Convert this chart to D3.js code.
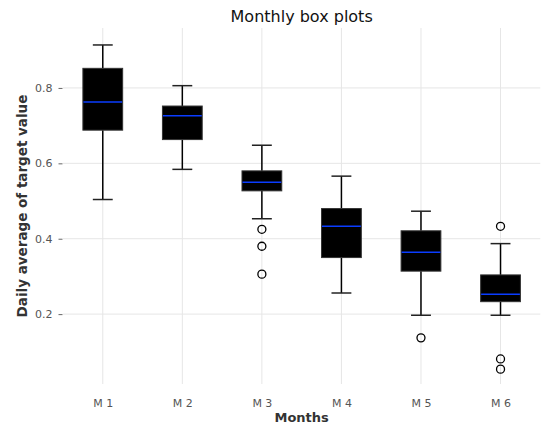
<!DOCTYPE html>
<html>
<head>
<meta charset="utf-8">
<script src="https://cdn.jsdelivr.net/npm/d3@7"></script>
<style>
  html, body { margin: 0; padding: 0; background: #fff; }
  svg { display: block; font-family: "DejaVu Sans", sans-serif; }
</style>
</head>
<body>
<svg id="chart" width="543" height="430"></svg>
<script>
// ---- data ----
const categories   = ["M 1", "M 2", "M 3", "M 4", "M 5", "M 6"];
const whiskerLow   = [0.504, 0.584, 0.453, 0.256, 0.197, 0.197];
const q1           = [0.688, 0.663, 0.527, 0.350, 0.314, 0.233];
const medians      = [0.763, 0.726, 0.550, 0.433, 0.364, 0.253];
const q3           = [0.852, 0.752, 0.580, 0.480, 0.421, 0.304];
const whiskerHigh  = [0.914, 0.806, 0.648, 0.566, 0.473, 0.387];
const outliers     = [[], [], [0.425, 0.380, 0.306], [], [0.137], [0.433, 0.081, 0.054]];
const yTicks       = [0.2, 0.4, 0.6, 0.8];
const yDomain      = [0.0146, 0.959];

const title  = "Monthly box plots";
const xLabel = "Months";
const yLabel = "Daily average of target value";

// ---- layout ----
const svg = d3.select("#chart");
const plot = { left: 63, right: 540.3, top: 28, bottom: 384 };

const x = d3.scalePoint().domain(categories)
  .range([plot.left, plot.right]).padding(0.5);
const step = x.step();
const y = d3.scaleLinear().domain(yDomain).range([plot.bottom, plot.top]);

const boxW = step * 0.5;
const capW = step * 0.25;

// grid
const grid = svg.append("g");
grid.selectAll("line.h").data(yTicks).join("line")
  .attr("x1", plot.left).attr("x2", plot.right)
  .attr("y1", d => y(d)).attr("y2", d => y(d))
  .attr("stroke", "#e6e6e6").attr("stroke-width", 1);
grid.selectAll("line.v").data(categories).join("line")
  .attr("x1", d => x(d)).attr("x2", d => x(d))
  .attr("y1", plot.top).attr("y2", plot.bottom)
  .attr("stroke", "#e6e6e6").attr("stroke-width", 1);

// y axis
const yAxis = d3.axisLeft(y).tickValues(yTicks).tickFormat(d3.format(".1f"))
  .tickSize(4).tickPadding(6);
const yg = svg.append("g").attr("transform", `translate(${plot.left - 0.5},0)`).call(yAxis);
yg.select(".domain").remove();
yg.selectAll(".tick line").attr("stroke", "#666").attr("stroke-width", 1);
yg.selectAll(".tick text").attr("fill", "#555").attr("font-size", 11)
  .attr("font-family", "DejaVu Sans, sans-serif");

// x axis
const xAxis = d3.axisBottom(x).tickSize(0).tickPadding(15);
const xg = svg.append("g").attr("transform", `translate(0,${plot.bottom})`).call(xAxis);
xg.select(".domain").remove();
xg.selectAll(".tick text").attr("fill", "#555").attr("font-size", 11)
  .attr("font-family", "DejaVu Sans, sans-serif");

// boxes
const rows = categories.map((c, i) => ({
  c, lo: whiskerLow[i], q1: q1[i], med: medians[i], q3: q3[i], hi: whiskerHigh[i], out: outliers[i]
}));
const g = svg.append("g");
const b = g.selectAll("g.box").data(rows).join("g");

// whiskers
b.append("line")
  .attr("x1", d => x(d.c)).attr("x2", d => x(d.c))
  .attr("y1", d => y(d.hi)).attr("y2", d => y(d.q3))
  .attr("stroke", "#000").attr("stroke-width", 1.5);
b.append("line")
  .attr("x1", d => x(d.c)).attr("x2", d => x(d.c))
  .attr("y1", d => y(d.q1)).attr("y2", d => y(d.lo))
  .attr("stroke", "#000").attr("stroke-width", 1.5);
// caps
b.append("line")
  .attr("x1", d => x(d.c) - capW / 2).attr("x2", d => x(d.c) + capW / 2)
  .attr("y1", d => y(d.hi)).attr("y2", d => y(d.hi))
  .attr("stroke", "#222").attr("stroke-width", 1.5);
b.append("line")
  .attr("x1", d => x(d.c) - capW / 2).attr("x2", d => x(d.c) + capW / 2)
  .attr("y1", d => y(d.lo)).attr("y2", d => y(d.lo))
  .attr("stroke", "#222").attr("stroke-width", 1.5);
// box
b.append("rect")
  .attr("x", d => x(d.c) - boxW / 2).attr("width", boxW)
  .attr("y", d => y(d.q3)).attr("height", d => y(d.q1) - y(d.q3))
  .attr("fill", "#000").attr("stroke", "#333").attr("stroke-width", 1);
// median
b.append("line")
  .attr("x1", d => x(d.c) - boxW / 2 + 0.5).attr("x2", d => x(d.c) + boxW / 2 - 0.5)
  .attr("y1", d => y(d.med)).attr("y2", d => y(d.med))
  .attr("stroke", "#0a3cff").attr("stroke-width", 1.5);
// outliers
b.selectAll("circle").data(d => d.out.map(v => ({ c: d.c, v }))).join("circle")
  .attr("cx", d => x(d.c)).attr("cy", d => y(d.v)).attr("r", 4)
  .attr("fill", "none").attr("stroke", "#000").attr("stroke-width", 1.3);

// titles
svg.append("text").attr("x", (plot.left + plot.right) / 2).attr("y", 22)
  .attr("text-anchor", "middle").attr("font-size", 16).attr("fill", "#111")
  .text(title);
svg.append("text").attr("x", (plot.left + plot.right) / 2).attr("y", 422)
  .attr("text-anchor", "middle").attr("font-size", 13).attr("font-weight", "bold")
  .attr("fill", "#333").text(xLabel);
svg.append("text")
  .attr("transform", `translate(27,${(plot.top + plot.bottom) / 2}) rotate(-90)`)
  .attr("text-anchor", "middle").attr("font-size", 13.5).attr("font-weight", "bold")
  .attr("fill", "#333").text(yLabel);
</script>
</body>
</html>
